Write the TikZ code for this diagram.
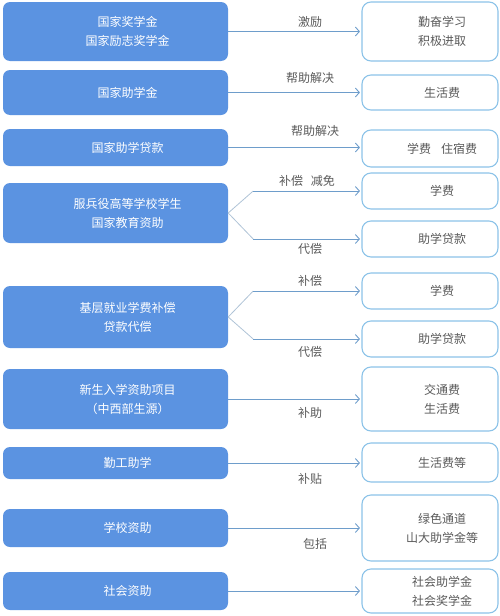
\documentclass[tikz,border=0pt]{standalone}
\usepackage{fontspec}
\newfontfamily\cjk{Noto Sans CJK SC}
\usetikzlibrary{arrows.meta}
\definecolor{boxblue}{HTML}{5B93E1}
\definecolor{edgeblue}{HTML}{8CC3E8}
\definecolor{arrowblue}{HTML}{6E9DCB}
\definecolor{forkgray}{HTML}{AFC3D6}
\definecolor{textgray}{HTML}{5A5A5A}

\begin{document}
\begin{tikzpicture}[x=1pt, y=-1pt, font=\cjk\fontsize{12}{19}\selectfont, >={Straight Barb[length=4pt,width=9pt]}]
  \tikzset{lbox/.style={fill=boxblue, rounded corners=7pt, minimum width=225pt, inner sep=0pt},
           rbox/.style={draw=edgeblue, line width=1.1pt, fill=white, rounded corners=9pt, minimum width=136pt, inner sep=0pt},
           ltxt/.style={text=white, align=center, xshift=12pt},
           rtxt/.style={text=textgray, align=center, xshift=12pt},
           arr/.style={draw=arrowblue, line width=0.9pt, ->, shorten >=1.5pt},
           fork/.style={draw=forkgray, line width=0.8pt},
           lbl/.style={text=textgray}}
  \useasboundingbox (0,0) rectangle (500,616);

  % left column
  \node[lbox, minimum height=59pt, label={[ltxt]center:国家奖学金\\国家励志奖学金}] (jxj) at (115.5,31.5) {};
  \node[lbox, minimum height=45pt, label={[ltxt]center:国家助学金}] (zxj) at (115.5,92.5) {};
  \node[lbox, minimum height=37pt, label={[ltxt]center:国家助学贷款}] (zxdk) at (115.5,147.5) {};
  \node[lbox, minimum height=60pt, label={[ltxt]center:服兵役高等学校学生\\国家教育资助}] (fby) at (115.5,213) {};
  \node[lbox, minimum height=62pt, label={[ltxt]center:基层就业学费补偿\\贷款代偿}] (jczy) at (115.5,317) {};
  \node[lbox, minimum height=60pt, label={[ltxt]center:新生入学资助项目\\（中西部生源）}] (xszz) at (115.5,399) {};
  \node[lbox, minimum height=32pt, label={[ltxt]center:勤工助学}] (qgzx) at (115.5,463) {};
  \node[lbox, minimum height=38pt, label={[ltxt]center:学校资助}] (xxzz) at (115.5,528) {};
  \node[lbox, minimum height=38pt, label={[ltxt]center:社会资助}] (shzz) at (115.5,591) {};

  % right column
  \node[rbox, minimum height=59pt, label={[rtxt]center:勤奋学习\\积极进取}] (qfxx) at (430,31.5) {};
  \node[rbox, minimum height=35pt, label={[rtxt]center:生活费}] (shf) at (430,92.5) {};
  \node[rbox, minimum height=37pt, label={[rtxt]center:学费\hspace{10pt}住宿费}] (xfzs) at (430,148.5) {};
  \node[rbox, minimum height=36pt, label={[rtxt]center:学费}] (xfa) at (430,191) {};
  \node[rbox, minimum height=36pt, label={[rtxt]center:助学贷款}] (dka) at (430,239) {};
  \node[rbox, minimum height=36pt, label={[rtxt]center:学费}] (xfb) at (430,291) {};
  \node[rbox, minimum height=36pt, label={[rtxt]center:助学贷款}] (dkb) at (430,339) {};
  \node[rbox, minimum height=64pt, label={[rtxt]center:交通费\\生活费}] (jtf) at (430,399) {};
  \node[rbox, minimum height=39pt, label={[rtxt]center:生活费等}] (shfd) at (430,462.5) {};
  \node[rbox, minimum height=66pt, label={[rtxt]center:绿色通道\\山大助学金等}] (lstd) at (430,528) {};
  \node[rbox, minimum height=44pt, label={[rtxt]center:社会助学金\\社会奖学金}] (shjj) at (430,591) {};

  % straight arrows
  \draw[arr] (jxj.east) -- (jxj.east -| qfxx.west);
  \draw[arr] (zxj.east) -- (zxj.east -| shf.west);
  \draw[arr] (zxdk.east) -- (zxdk.east -| xfzs.west);
  \draw[arr] (xszz.east) -- (xszz.east -| jtf.west);
  \draw[arr] (qgzx.east) -- (qgzx.east -| shfd.west);
  \draw[arr] (xxzz.east) -- (xxzz.east -| lstd.west);
  \draw[arr] (shzz.east) -- (shzz.east -| shjj.west);

  % forks
  \coordinate (fyfork) at ([xshift=25pt]fby.east);
  \coordinate (jcfork) at ([xshift=25pt]jczy.east);
  \draw[fork] (fyfork |- xfa.west) -- (fby.east) -- (fyfork |- dka.west);
  \draw[arr] (fyfork |- xfa.west) -- (xfa.west);
  \draw[arr] (fyfork |- dka.west) -- (dka.west);
  \draw[fork] (jcfork |- xfb.west) -- (jczy.east) -- (jcfork |- dkb.west);
  \draw[arr] (jcfork |- xfb.west) -- (xfb.west);
  \draw[arr] (jcfork |- dkb.west) -- (dkb.west);

  % arrow labels
  \node[lbl] (jl) at (310,22) {激励};
  \node[lbl] (bzja) at (310,78) {帮助解决};
  \node[lbl] (bzjb) at (315,131) {帮助解决};
  \node[lbl] (bcjm) at (307,181) {补偿\hspace{8pt}减免};
  \node[lbl] (dca) at (310,249) {代偿};
  \node[lbl] (bc) at (310,281) {补偿};
  \node[lbl] (dcb) at (310,352) {代偿};
  \node[lbl] (bz) at (310,413) {补助};
  \node[lbl] (bt) at (310,479) {补贴};
  \node[lbl] (bk) at (315,544) {包括};
\end{tikzpicture}
\end{document}
